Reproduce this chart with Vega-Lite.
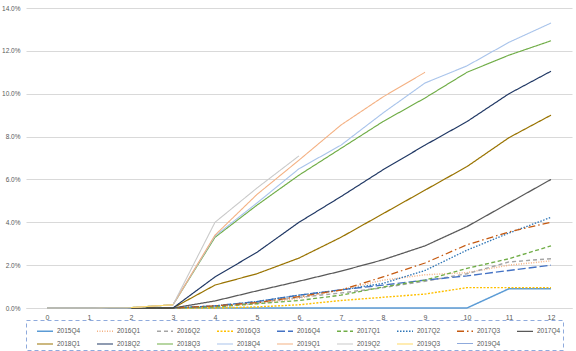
{
  "$schema": "https://vega.github.io/schema/vega-lite/v6.json",
  "width": 546,
  "height": 300,
  "autosize": {"type": "none"},
  "padding": {"left": 26, "top": 8, "right": 4, "bottom": 43},
  "background": "white",
  "config": {
    "view": {"stroke": null},
    "font": "Liberation Sans"
  },
  "data": {
    "values": [
      {"s":"2015Q4","t":0,"v":0},{"s":"2015Q4","t":1,"v":0},{"s":"2015Q4","t":2,"v":0},{"s":"2015Q4","t":3,"v":0},{"s":"2015Q4","t":4,"v":0},{"s":"2015Q4","t":5,"v":0},{"s":"2015Q4","t":6,"v":0},{"s":"2015Q4","t":7,"v":0},{"s":"2015Q4","t":8,"v":0},{"s":"2015Q4","t":9,"v":0},{"s":"2015Q4","t":10,"v":0},{"s":"2015Q4","t":11,"v":0.9},{"s":"2015Q4","t":12,"v":0.9},
      {"s":"2016Q1","t":0,"v":0},{"s":"2016Q1","t":1,"v":0},{"s":"2016Q1","t":2,"v":0},{"s":"2016Q1","t":3,"v":0},{"s":"2016Q1","t":4,"v":0.05},{"s":"2016Q1","t":5,"v":0.2},{"s":"2016Q1","t":6,"v":0.45},{"s":"2016Q1","t":7,"v":0.85},{"s":"2016Q1","t":8,"v":1.3},{"s":"2016Q1","t":9,"v":1.55},{"s":"2016Q1","t":10,"v":1.65},{"s":"2016Q1","t":11,"v":2.0},{"s":"2016Q1","t":12,"v":2.2},
      {"s":"2016Q2","t":0,"v":0},{"s":"2016Q2","t":1,"v":0},{"s":"2016Q2","t":2,"v":0},{"s":"2016Q2","t":3,"v":0},{"s":"2016Q2","t":4,"v":0.05},{"s":"2016Q2","t":5,"v":0.25},{"s":"2016Q2","t":6,"v":0.5},{"s":"2016Q2","t":7,"v":0.7},{"s":"2016Q2","t":8,"v":0.95},{"s":"2016Q2","t":9,"v":1.25},{"s":"2016Q2","t":10,"v":1.6},{"s":"2016Q2","t":11,"v":2.15},{"s":"2016Q2","t":12,"v":2.3},
      {"s":"2016Q3","t":0,"v":0},{"s":"2016Q3","t":1,"v":0},{"s":"2016Q3","t":2,"v":0},{"s":"2016Q3","t":3,"v":0},{"s":"2016Q3","t":4,"v":0},{"s":"2016Q3","t":5,"v":0.05},{"s":"2016Q3","t":6,"v":0.15},{"s":"2016Q3","t":7,"v":0.35},{"s":"2016Q3","t":8,"v":0.5},{"s":"2016Q3","t":9,"v":0.65},{"s":"2016Q3","t":10,"v":0.95},{"s":"2016Q3","t":11,"v":0.95},{"s":"2016Q3","t":12,"v":0.95},
      {"s":"2016Q4","t":0,"v":0},{"s":"2016Q4","t":1,"v":0},{"s":"2016Q4","t":2,"v":0},{"s":"2016Q4","t":3,"v":0},{"s":"2016Q4","t":4,"v":0.1},{"s":"2016Q4","t":5,"v":0.3},{"s":"2016Q4","t":6,"v":0.6},{"s":"2016Q4","t":7,"v":0.85},{"s":"2016Q4","t":8,"v":1.07},{"s":"2016Q4","t":9,"v":1.3},{"s":"2016Q4","t":10,"v":1.5},{"s":"2016Q4","t":11,"v":1.75},{"s":"2016Q4","t":12,"v":2.0},
      {"s":"2017Q1","t":0,"v":0},{"s":"2017Q1","t":1,"v":0},{"s":"2017Q1","t":2,"v":0},{"s":"2017Q1","t":3,"v":0},{"s":"2017Q1","t":4,"v":0.05},{"s":"2017Q1","t":5,"v":0.2},{"s":"2017Q1","t":6,"v":0.35},{"s":"2017Q1","t":7,"v":0.6},{"s":"2017Q1","t":8,"v":0.98},{"s":"2017Q1","t":9,"v":1.3},{"s":"2017Q1","t":10,"v":1.85},{"s":"2017Q1","t":11,"v":2.3},{"s":"2017Q1","t":12,"v":2.9},
      {"s":"2017Q2","t":0,"v":0},{"s":"2017Q2","t":1,"v":0},{"s":"2017Q2","t":2,"v":0},{"s":"2017Q2","t":3,"v":0},{"s":"2017Q2","t":4,"v":0.1},{"s":"2017Q2","t":5,"v":0.3},{"s":"2017Q2","t":6,"v":0.6},{"s":"2017Q2","t":7,"v":0.84},{"s":"2017Q2","t":8,"v":1.15},{"s":"2017Q2","t":9,"v":1.75},{"s":"2017Q2","t":10,"v":2.7},{"s":"2017Q2","t":11,"v":3.5},{"s":"2017Q2","t":12,"v":4.23},
      {"s":"2017Q3","t":0,"v":0},{"s":"2017Q3","t":1,"v":0},{"s":"2017Q3","t":2,"v":0},{"s":"2017Q3","t":3,"v":0},{"s":"2017Q3","t":4,"v":0.1},{"s":"2017Q3","t":5,"v":0.25},{"s":"2017Q3","t":6,"v":0.53},{"s":"2017Q3","t":7,"v":0.84},{"s":"2017Q3","t":8,"v":1.45},{"s":"2017Q3","t":9,"v":2.1},{"s":"2017Q3","t":10,"v":2.95},{"s":"2017Q3","t":11,"v":3.55},{"s":"2017Q3","t":12,"v":4.0},
      {"s":"2017Q4","t":0,"v":0},{"s":"2017Q4","t":1,"v":0},{"s":"2017Q4","t":2,"v":0},{"s":"2017Q4","t":3,"v":0},{"s":"2017Q4","t":4,"v":0.33},{"s":"2017Q4","t":5,"v":0.8},{"s":"2017Q4","t":6,"v":1.25},{"s":"2017Q4","t":7,"v":1.72},{"s":"2017Q4","t":8,"v":2.25},{"s":"2017Q4","t":9,"v":2.9},{"s":"2017Q4","t":10,"v":3.8},{"s":"2017Q4","t":11,"v":4.9},{"s":"2017Q4","t":12,"v":6.0},
      {"s":"2018Q1","t":0,"v":0},{"s":"2018Q1","t":1,"v":0},{"s":"2018Q1","t":2,"v":0},{"s":"2018Q1","t":3,"v":0},{"s":"2018Q1","t":4,"v":1.07},{"s":"2018Q1","t":5,"v":1.6},{"s":"2018Q1","t":6,"v":2.33},{"s":"2018Q1","t":7,"v":3.3},{"s":"2018Q1","t":8,"v":4.4},{"s":"2018Q1","t":9,"v":5.5},{"s":"2018Q1","t":10,"v":6.6},{"s":"2018Q1","t":11,"v":7.95},{"s":"2018Q1","t":12,"v":9.0},
      {"s":"2018Q2","t":0,"v":0},{"s":"2018Q2","t":1,"v":0},{"s":"2018Q2","t":2,"v":0},{"s":"2018Q2","t":3,"v":0},{"s":"2018Q2","t":4,"v":1.45},{"s":"2018Q2","t":5,"v":2.6},{"s":"2018Q2","t":6,"v":4.0},{"s":"2018Q2","t":7,"v":5.2},{"s":"2018Q2","t":8,"v":6.45},{"s":"2018Q2","t":9,"v":7.6},{"s":"2018Q2","t":10,"v":8.7},{"s":"2018Q2","t":11,"v":10.0},{"s":"2018Q2","t":12,"v":11.05},
      {"s":"2018Q3","t":0,"v":0},{"s":"2018Q3","t":1,"v":0},{"s":"2018Q3","t":2,"v":0.02},{"s":"2018Q3","t":3,"v":0.15},{"s":"2018Q3","t":4,"v":3.3},{"s":"2018Q3","t":5,"v":4.8},{"s":"2018Q3","t":6,"v":6.2},{"s":"2018Q3","t":7,"v":7.45},{"s":"2018Q3","t":8,"v":8.7},{"s":"2018Q3","t":9,"v":9.8},{"s":"2018Q3","t":10,"v":11.0},{"s":"2018Q3","t":11,"v":11.8},{"s":"2018Q3","t":12,"v":12.47},
      {"s":"2018Q4","t":0,"v":0},{"s":"2018Q4","t":1,"v":0},{"s":"2018Q4","t":2,"v":0.02},{"s":"2018Q4","t":3,"v":0.15},{"s":"2018Q4","t":4,"v":3.36},{"s":"2018Q4","t":5,"v":4.9},{"s":"2018Q4","t":6,"v":6.5},{"s":"2018Q4","t":7,"v":7.6},{"s":"2018Q4","t":8,"v":9.1},{"s":"2018Q4","t":9,"v":10.5},{"s":"2018Q4","t":10,"v":11.3},{"s":"2018Q4","t":11,"v":12.4},{"s":"2018Q4","t":12,"v":13.3},
      {"s":"2019Q1","t":0,"v":0},{"s":"2019Q1","t":1,"v":0},{"s":"2019Q1","t":2,"v":0.02},{"s":"2019Q1","t":3,"v":0.15},{"s":"2019Q1","t":4,"v":3.4},{"s":"2019Q1","t":5,"v":5.3},{"s":"2019Q1","t":6,"v":6.9},{"s":"2019Q1","t":7,"v":8.54},{"s":"2019Q1","t":8,"v":9.85},{"s":"2019Q1","t":9,"v":11.0},
      {"s":"2019Q2","t":0,"v":0},{"s":"2019Q2","t":1,"v":0},{"s":"2019Q2","t":2,"v":0.02},{"s":"2019Q2","t":3,"v":0.15},{"s":"2019Q2","t":4,"v":4.0},{"s":"2019Q2","t":5,"v":5.6},{"s":"2019Q2","t":6,"v":7.1},
      {"s":"2019Q3","t":0,"v":0},{"s":"2019Q3","t":1,"v":0},{"s":"2019Q3","t":2,"v":0.02},{"s":"2019Q3","t":3,"v":0.15},
      {"s":"2019Q4","t":0,"v":0},{"s":"2019Q4","t":1,"v":0},{"s":"2019Q4","t":2,"v":0}
    ]
  },
  "mark": {"type": "line", "strokeCap": "butt"},
  "encoding": {
    "x": {
      "field": "t",
      "type": "ordinal",
      "scale": {"type": "point", "padding": 0.5},
      "axis": {
        "title": null,
        "labelAngle": 0,
        "labelFontSize": 7,
        "labelColor": "#595959",
        "labelPadding": 5,
        "ticks": false,
        "domain": true,
        "domainColor": "#D9D9D9",
        "grid": false
      }
    },
    "y": {
      "field": "v",
      "type": "quantitative",
      "scale": {"domain": [0, 14], "nice": false},
      "axis": {
        "title": null,
        "values": [0, 2, 4, 6, 8, 10, 12, 14],
        "labelExpr": "format(datum.value, '.1f') + '%'",
        "labelFontSize": 6.5,
        "labelColor": "#595959",
        "labelPadding": 6,
        "ticks": false,
        "domain": false,
        "grid": true,
        "gridColor": "#D9D9D9",
        "gridWidth": 1
      }
    },
    "color": {
      "field": "s",
      "type": "nominal",
      "scale": {
        "domain": ["2015Q4","2016Q1","2016Q2","2016Q3","2016Q4","2017Q1","2017Q2","2017Q3","2017Q4","2018Q1","2018Q2","2018Q3","2018Q4","2019Q1","2019Q2","2019Q3","2019Q4"],
        "range": ["#5B9BD5","#F4B183","#A5A5A5","#FFC000","#4472C4","#70AD47","#2E75B6","#C55A11","#595959","#997300","#203864","#70AD47","#A9C4EB","#F4B183","#C9C9C9","#FFD966","#8FAADC"]
      },
      "legend": {
        "title": null,
        "orient": "none",
        "direction": "horizontal",
        "legendX": 0,
        "legendY": 312,
        "columns": 9,
        "gridAlign": "all",
        "symbolType": "stroke",
        "symbolSize": 256,
        "labelFontSize": 6.5,
        "labelColor": "#595959",
        "labelOffset": 3,
        "columnPadding": 7,
        "rowPadding": -12,
        "padding": 2,
        "strokeColor": "#8FAADC",
        "symbolOffset": 8,
        "encode": {
          "legend": {"update": {"strokeDash": {"value": [4, 3]}}}
        }
      }
    },
    "strokeDash": {
      "field": "s",
      "type": "nominal",
      "scale": {
        "domain": ["2015Q4","2016Q1","2016Q2","2016Q3","2016Q4","2017Q1","2017Q2","2017Q3","2017Q4","2018Q1","2018Q2","2018Q3","2018Q4","2019Q1","2019Q2","2019Q3","2019Q4"],
        "range": [[1,0],[1,1.5],[4,3],[2,1.5],[8,3],[4,2.5],[1.5,1.5],[7,3,1.5,3],[1,0],[1,0],[1,0],[1,0],[1,0],[1,0],[1,0],[1,0],[1,0]]
      },
      "legend": null
    },
    "strokeWidth": {
      "field": "s",
      "type": "nominal",
      "scale": {
        "domain": ["2015Q4","2016Q1","2016Q2","2016Q3","2016Q4","2017Q1","2017Q2","2017Q3","2017Q4","2018Q1","2018Q2","2018Q3","2018Q4","2019Q1","2019Q2","2019Q3","2019Q4"],
        "range": [1.5,1,1,1.2,1.5,1.5,1.5,2,2.5,2,2,1,1,1,1,1,1]
      },
      "legend": null
    }
  }
}
